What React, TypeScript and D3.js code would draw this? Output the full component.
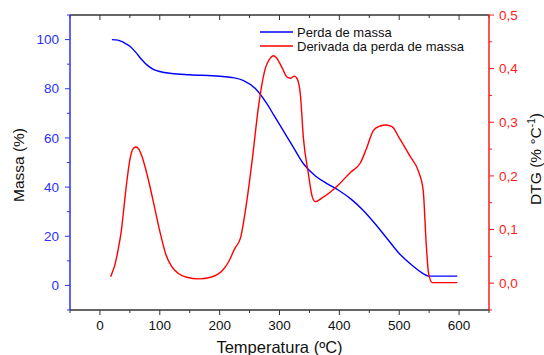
import * as d3 from "d3";

// ── data ──
const massT = [20, 30, 40, 50, 60, 70, 80, 90, 100, 120, 150, 200, 220, 240, 260, 280, 290, 300, 320, 340, 360, 380, 400, 420, 440, 460, 480, 500, 520, 540, 550, 560, 580, 597];
const massV = [100, 99.8, 98.8, 97.3, 94.8, 91.8, 89.4, 87.8, 87, 86.2, 85.7, 85.1, 84.6, 83.3, 80, 73.5, 69.5, 65.5, 57.5, 49.5, 44.5, 41.3, 38.5, 35, 30.5, 25, 19, 13, 8.5, 4.8, 3.8, 3.8, 3.8, 3.8];

const dtgT = [18, 20, 25, 30, 36, 40, 45, 50, 55, 60, 65, 70, 80, 90, 100, 110, 120, 130, 145, 165, 185, 205, 215, 225, 235, 245, 255, 265, 275, 285, 290, 295, 305, 312, 318, 325, 330, 335, 340, 348, 355, 360, 370, 385, 400, 418, 435, 445, 457, 468, 478, 488, 500, 518, 532, 540, 545, 549, 555, 570, 597];
const dtgV = [0.012, 0.018, 0.034, 0.06, 0.1, 0.14, 0.19, 0.23, 0.25, 0.254, 0.25, 0.237, 0.197, 0.148, 0.097, 0.054, 0.031, 0.019, 0.011, 0.008, 0.011, 0.024, 0.04, 0.064, 0.085, 0.15, 0.235, 0.33, 0.395, 0.42, 0.424, 0.42, 0.4, 0.385, 0.382, 0.386, 0.38, 0.35, 0.27, 0.206, 0.16, 0.152, 0.158, 0.17, 0.185, 0.206, 0.224, 0.25, 0.285, 0.293, 0.295, 0.292, 0.271, 0.237, 0.209, 0.174, 0.075, 0.019, 0.001, 0.001, 0.001];

const xTicks = [0, 100, 200, 300, 400, 500, 600];
const massTicks = [0, 20, 40, 60, 80, 100];
const dtgTicks = [0, 0.1, 0.2, 0.3, 0.4, 0.5];

const legendItems = [
  { label: "Perda de massa", color: "#0000ff" },
  { label: "Derivada da perda de massa", color: "#ff0000" },
];

// ── layout ──
const W = 544;
const H = 355;
const m = { top: 15, right: 55, bottom: 45, left: 70 };
const FONT = "'Liberation Sans', Arial, sans-serif";
const BLUE = "#2e2eff";
const RED = "#ff1a1a";
const AXIS = "#333";

const x = d3.scaleLinear().domain([-50, 650]).range([m.left, W - m.right]);
const yM = d3.scaleLinear().domain([-10, 110]).range([H - m.bottom, m.top]);
const yD = d3.scaleLinear().domain([-0.05, 0.5]).range([H - m.bottom, m.top]);

const massLine = d3.line<number>()
  .x((_, i) => x(massT[i]))
  .y(d => yM(d))
  .curve(d3.curveMonotoneX)(massV);

const dtgLine = d3.line<number>()
  .x((_, i) => x(dtgT[i]))
  .y(d => yD(d))
  .curve(d3.curveMonotoneX)(dtgV);

export default function App() {
  const x0 = m.left;
  const x1 = W - m.right;
  const y0 = H - m.bottom;
  const y1 = m.top;
  const xMinor = d3.range(-50, 651, 50);
  const mMinor = d3.range(-10, 111, 10);
  const dMinor = d3.range(-0.05, 0.501, 0.05);

  return (
    <svg width={W} height={H} style={{ position: "absolute", left: 0, top: 0, fontFamily: FONT }}>
      <rect width={W} height={H} fill="#fff" />

      {/* curves */}
      <path d={massLine ?? ""} fill="none" stroke="#0000ff" strokeWidth={1.4} />
      <path d={dtgLine ?? ""} fill="none" stroke="#ff0000" strokeWidth={1.4} />

      {/* top + bottom axes */}
      <line x1={x0} x2={x1} y1={y0} y2={y0} stroke={AXIS} strokeWidth={1.3} />
      <line x1={x0} x2={x1} y1={y1} y2={y1} stroke={AXIS} strokeWidth={1.3} />
      {xMinor.map(t => {
        const major = t % 100 === 0;
        return (
          <g key={"x" + t}>
            <line x1={x(t)} x2={x(t)} y1={y0} y2={y0 + (major ? 5 : 3)} stroke={AXIS} strokeWidth={1} />
            <line x1={x(t)} x2={x(t)} y1={y1} y2={y1 + (major ? 5 : 3)} stroke={AXIS} strokeWidth={1} />
          </g>
        );
      })}
      {xTicks.map(t => (
        <text key={"xl" + t} x={x(t)} y={y0 + 20} textAnchor="middle" fontSize={13.5} fill="#111">{t}</text>
      ))}
      <text x={(x0 + x1) / 2} y={H - 2} textAnchor="middle" fontSize={16.5} fill="#111">Temperatura (ºC)</text>

      {/* left axis (massa) */}
      <line x1={x0} x2={x0} y1={y0} y2={y1} stroke={BLUE} strokeWidth={1.5} />
      {mMinor.map(t => (
        <line key={"m" + t} x1={x0} x2={x0 - (t % 20 === 0 ? 5 : 3)} y1={yM(t)} y2={yM(t)} stroke={BLUE} strokeWidth={1} />
      ))}
      {massTicks.map(t => (
        <text key={"ml" + t} x={x0 - 11} y={yM(t)} dy="0.35em" textAnchor="end" fontSize={13.5} fill={BLUE}>{t}</text>
      ))}
      <text transform={`translate(${24},${165}) rotate(-90)`} textAnchor="middle" fontSize={15.5} fill="#111">Massa (%)</text>

      {/* right axis (DTG) */}
      <line x1={x1} x2={x1} y1={y0} y2={y1} stroke={RED} strokeWidth={1.5} />
      {dMinor.map((t, i) => (
        <line key={"d" + i} x1={x1} x2={x1 + (i % 2 === 1 ? 5 : 3)} y1={yD(t)} y2={yD(t)} stroke={RED} strokeWidth={1} />
      ))}
      {dtgTicks.map(t => (
        <text key={"dl" + t} x={x1 + 10} y={yD(t)} dy="0.35em" textAnchor="start" fontSize={13.5} fill={RED}>
          {d3.format(".1f")(t).replace(".", ",")}
        </text>
      ))}
      <text transform={`translate(${541},${159}) rotate(-90)`} textAnchor="middle" fontSize={15.5} fill="#111">
        DTG (% °C<tspan dy={-6} fontSize={10}>-1</tspan><tspan dy={6}>)</tspan>
      </text>

      {/* legend */}
      {legendItems.map((d, i) => (
        <g key={d.label} transform={`translate(260,${32 + i * 14})`}>
          <line x1={0} x2={33} y1={0} y2={0} stroke={d.color} strokeWidth={1.3} />
          <text x={37} y={0} dy="0.35em" fontSize={13} fill="#111">{d.label}</text>
        </g>
      ))}
    </svg>
  );
}
